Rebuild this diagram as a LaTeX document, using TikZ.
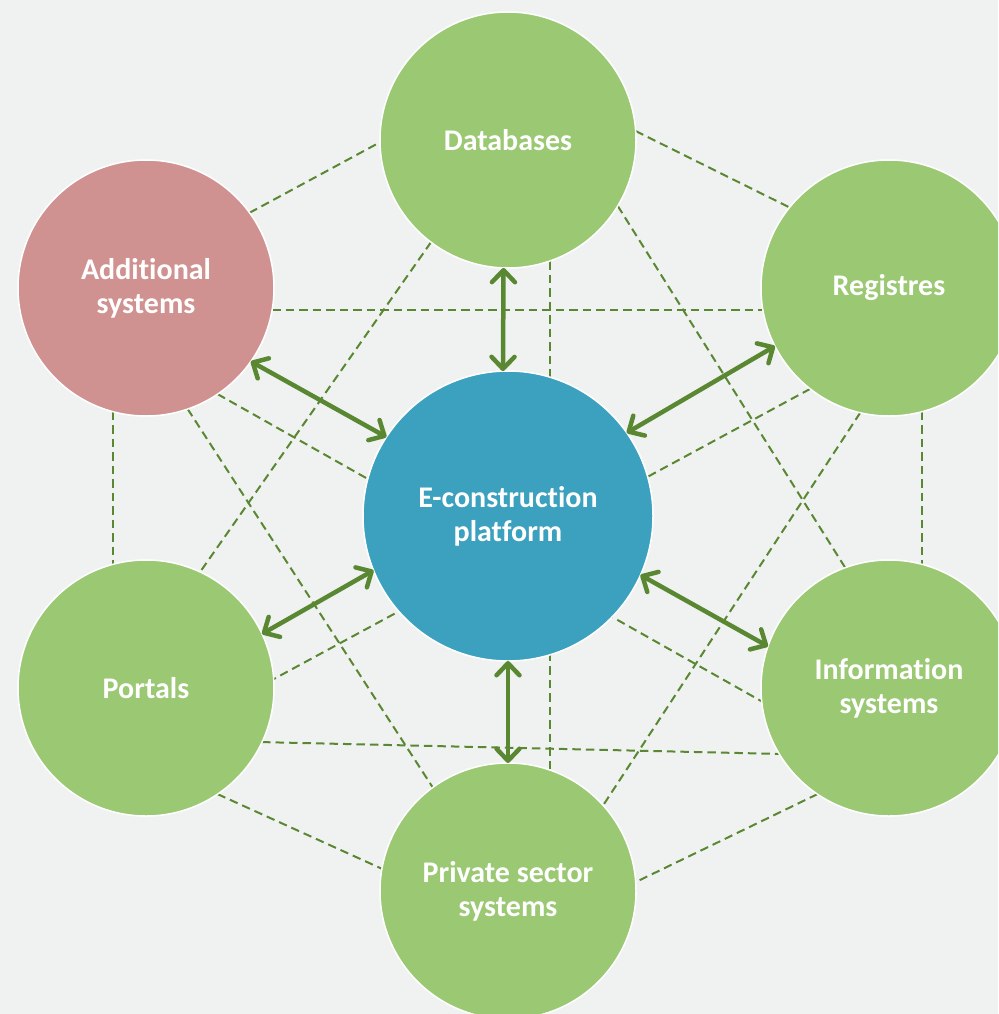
\documentclass[tikz,border=0pt]{standalone}
\usepackage{fontspec}
\setmainfont[Ligatures=NoCommon]{Carlito}
\usetikzlibrary{arrows.meta}
\definecolor{bgc}{HTML}{F0F2F1}
\definecolor{leaf}{HTML}{9BC873}
\definecolor{rose}{HTML}{D09290}
\definecolor{teal}{HTML}{3BA1BE}
\definecolor{dkgreen}{HTML}{5A8732}
\pgfdeclarelayer{bglayer}
\pgfdeclarelayer{linelayer}
\pgfsetlayers{bglayer,linelayer,main}
\tikzset{
  bubble/.style={circle, draw=white, line width=1.5pt, minimum size=256pt, inner sep=0pt,
    outer sep=0pt, align=center, text=white,
    font=\fontsize{30}{34}\selectfont\bfseries},
  hub/.style={bubble, minimum size=290pt},
  link/.style={draw=dkgreen, line width=2pt, dash pattern=on 8.5pt off 5pt},
  biarrow/.style={draw=dkgreen, line width=4.5pt, line cap=round,
    {Straight Barb[length=12pt,width=23pt,line cap=round,line join=round]}-{Straight Barb[length=12pt,width=23pt,line cap=round,line join=round]}}
}
\begin{document}
\begin{tikzpicture}[x=1pt,y=-1pt]
\useasboundingbox (0,0) rectangle (998,1014);
\clip (0,0) rectangle (998,1014);
\begin{pgfonlayer}{bglayer}
\fill[bgc] (0,0) rectangle (998,1014);
\end{pgfonlayer}

\node[bubble, fill=leaf] (db) at (508,140) {Databases};
\node[bubble, fill=rose] (add) at (146,288) {Additional\\systems};
\node[bubble, fill=leaf] (reg) at (889,288) {Registres};
\node[bubble, fill=leaf] (por) at (146,688) {Portals};
\node[bubble, fill=leaf] (inf) at (889,688) {Information\\systems};
\node[bubble, fill=leaf] (pri) at (508,891) {Private sector\\systems};
\node[hub, fill=teal] (cen) at (508,516) {E-construction\\platform};

\begin{pgfonlayer}{linelayer}
\draw[link] (add.36) -- (db.181);
\draw[link] (db.4) -- (reg.141);
\draw[link] (add.-10) -- (reg.190);
\draw[link] (db.233) -- (por.65);
\draw[link] (db.-71) -- (pri.71);
\draw[link] (db.-31) -- (inf.110);
\draw[link] (reg.257) -- (pri.42);
\draw[link] (reg.-75) -- (inf.75);
\draw[link] (reg.232) -- (por.4);
\draw[link] (add.-105) -- (por.105);
\draw[link] (add.-71) -- (pri.126);
\draw[link] (por.-25) -- (inf.211);
\draw[link] (por.-56) -- (pri.170);
\draw[link] (inf.236) -- (pri.4);
\draw[link] (add.-56) -- (inf.186);
\end{pgfonlayer}

\draw[biarrow] (db.268) -- (cen.92);
\draw[biarrow] (add.-35) -- (cen.147);
\draw[biarrow] (reg.207) -- (cen.35);
\draw[biarrow] (por.25) -- (cen.202);
\draw[biarrow] (cen.-24) -- (inf.161);
\draw[biarrow] (cen.-90) -- (pri.90);
\end{tikzpicture}
\end{document}
